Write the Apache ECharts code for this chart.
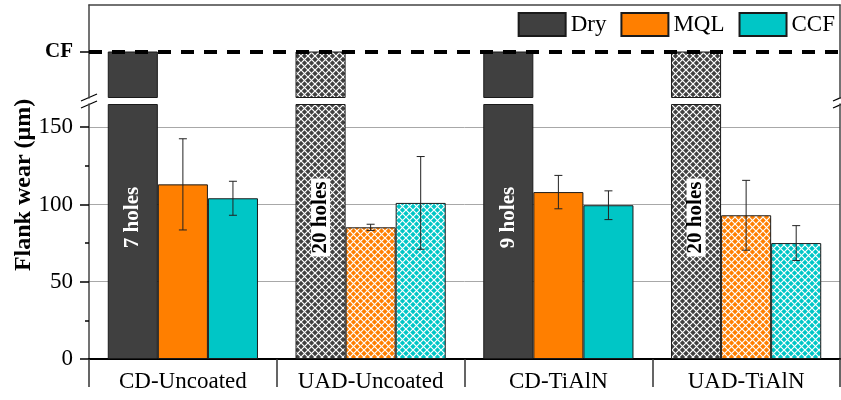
<!DOCTYPE html>
<html>
<head>
<meta charset="utf-8">
<title>Flank wear</title>
<script src="https://cdn.jsdelivr.net/npm/echarts@6/dist/echarts.min.js"></script>
<style>
  html, body { margin: 0; padding: 0; background: #fff; }
  #chart { width: 841px; height: 400px; }
</style>
</head>
<body>
<div id="chart"></div>
<script>
// values
const categories = ['CD-Uncoated', 'UAD-Uncoated', 'CD-TiAlN', 'UAD-TiAlN']
const dryResult = ['CF', 'CF', 'CF', 'CF'] // dry drilling hit catastrophic failure
const dryHoles = ['7 holes', '20 holes', '9 holes', '20 holes']
const mqlWear = [113, 85.2, 108, 93]
const mqlErr = [29.5, 2, 10.8, 22.6]
const ccfWear = [104, 101, 99.5, 75]
const ccfErr = [11, 30, 9.3, 11.3]
const yTicks = [0, 50, 100, 150]
const yMinorTicks = [25, 75, 125]

const CF_LEVEL = 1 // upper (broken) segment runs 0..2, CF sits in the middle
const LOWER_MAX = 165

const FONT = '"Liberation Serif", "Times New Roman", serif'
const DRY = '#404040'
const ORANGE = '#ff7f00'
const CYAN = '#00c6c6'
const EDGE = '#1a1a1a'
const FRAME = '#444'

// white crosshatch used for the UAD bars
function hatch(color) {
  const c = document.createElement('canvas')
  c.width = 7
  c.height = 7
  const ctx = c.getContext('2d')
  ctx.fillStyle = color
  ctx.fillRect(0, 0, 7, 7)
  ctx.strokeStyle = '#fff'
  ctx.lineWidth = 1.2
  ctx.beginPath()
  ctx.moveTo(-1, -1); ctx.lineTo(8, 8)
  ctx.moveTo(-1, 8); ctx.lineTo(8, -1)
  ctx.stroke()
  return { image: c, repeat: 'repeat' }
}

const isUAD = i => categories[i].indexOf('UAD') === 0
const fillFor = (color, i) => (isUAD(i) ? hatch(color) : color)

function barItems(values, color) {
  return values.map((v, i) => ({ value: v, itemStyle: { color: fillFor(color, i) } }))
}

function errorItems(values, errs, slot) {
  return values.map((v, i) => [i, v, errs[i], slot])
}

const chart = echarts.init(document.getElementById('chart'), null, { renderer: 'canvas' })

const edgeStyle = { borderColor: EDGE, borderWidth: 1 }

chart.setOption({
  animation: false,
  backgroundColor: '#fff',
  legend: {
    data: ['Dry', 'MQL', 'CCF'],
    top: 12,
    right: 6,
    padding: 0,
    itemWidth: 47,
    itemHeight: 23,
    itemGap: 14,
    icon: 'rect',
    selectedMode: false,
    textStyle: { fontFamily: FONT, fontSize: 23, color: '#000' }
  },
  grid: [
    { left: 89, right: 1, top: 5, height: 93, outerBoundsMode: 'none' },
    { left: 89, right: 1, top: 104, bottom: 41, outerBoundsMode: 'none' }
  ],
  xAxis: [
    {
      type: 'category', gridIndex: 0, data: categories, position: 'top',
      axisLine: { onZero: false, lineStyle: { color: FRAME, width: 1.5 } },
      axisTick: { show: false }, axisLabel: { show: false }
    },
    {
      type: 'category', gridIndex: 1, data: categories,
      axisLine: { onZero: false, lineStyle: { color: '#000', width: 2 } },
      axisTick: { show: true, length: 28, interval: 0, lineStyle: { color: '#333', width: 1.5 } },
      axisLabel: { fontFamily: FONT, fontSize: 23, color: '#000', margin: 11, interval: 0 }
    }
  ],
  yAxis: [
    {
      type: 'value', gridIndex: 0, position: 'left', min: 0, max: 2,
      axisLine: { show: true, lineStyle: { color: FRAME, width: 1.5 } },
      axisTick: { show: true, length: 9, customValues: [CF_LEVEL], lineStyle: { color: '#000', width: 1.5 } },
      axisLabel: {
        customValues: [CF_LEVEL], formatter: () => 'CF',
        fontFamily: FONT, fontSize: 21, fontWeight: 'bold', color: '#000', margin: 16
      },
      splitLine: { show: false }
    },
    {
      type: 'value', gridIndex: 1, position: 'left', min: 0, max: LOWER_MAX, interval: 50,
      axisLine: { show: true, lineStyle: { color: FRAME, width: 1.5 } },
      axisTick: { show: true, length: 9, customValues: yTicks, lineStyle: { color: '#000', width: 1.5 } },
      axisLabel: { customValues: yTicks, fontFamily: FONT, fontSize: 23, color: '#000', margin: 16 },
      splitLine: {
        show: true,
        lineStyle: { color: ['#a8a8a8', '#a8a8a8', '#a8a8a8', '#a8a8a8', 'rgba(0,0,0,0)'], width: 1 }
      }
    },
    {
      // right frame, upper segment
      type: 'value', gridIndex: 0, position: 'right', min: 0, max: 2,
      axisLine: { show: true, lineStyle: { color: FRAME, width: 1.5 } },
      axisTick: { show: false }, axisLabel: { show: false }, splitLine: { show: false }
    },
    {
      // minor ticks of the lower segment
      type: 'value', gridIndex: 1, position: 'left', min: 0, max: LOWER_MAX,
      axisLine: { show: false },
      axisTick: { show: true, length: 4, customValues: yMinorTicks, lineStyle: { color: '#000', width: 1.5 } },
      axisLabel: { show: false }, splitLine: { show: false }
    },
    {
      // right frame, lower segment
      type: 'value', gridIndex: 1, position: 'right', min: 0, max: LOWER_MAX,
      axisLine: { show: true, lineStyle: { color: FRAME, width: 1.5 } },
      axisTick: { show: false }, axisLabel: { show: false }, splitLine: { show: false }
    }
  ],
  series: [
    // upper segment: dry bars reach CF
    {
      name: 'Dry', type: 'bar', xAxisIndex: 0, yAxisIndex: 0,
      barGap: '0%', barCategoryGap: '20%',
      itemStyle: Object.assign({ color: DRY }, edgeStyle),
      data: barItems(dryResult.map(() => CF_LEVEL), DRY),
      markLine: {
        silent: true, symbol: 'none', z: 10,
        label: { show: false },
        lineStyle: { color: '#000', width: 4, type: [13, 10] },
        data: [{ yAxis: CF_LEVEL }]
      }
    },
    { name: 'MQL', type: 'bar', xAxisIndex: 0, yAxisIndex: 0, itemStyle: Object.assign({ color: ORANGE }, edgeStyle), data: [] },
    { name: 'CCF', type: 'bar', xAxisIndex: 0, yAxisIndex: 0, itemStyle: Object.assign({ color: CYAN }, edgeStyle), data: [] },
    // lower segment
    {
      name: 'Dry', type: 'bar', xAxisIndex: 1, yAxisIndex: 1,
      barGap: '0%', barCategoryGap: '20%',
      itemStyle: Object.assign({ color: DRY }, edgeStyle),
      data: dryResult.map((r, i) => ({
        value: LOWER_MAX,
        itemStyle: { color: fillFor(DRY, i) },
        label: isUAD(i)
          ? { color: '#000', backgroundColor: '#fff', padding: [1, 3] }
          : { color: '#fff' }
      })),
      label: {
        show: true, position: 'inside', rotate: 90, offset: [14, 0],
        formatter: p => dryHoles[p.dataIndex],
        fontFamily: FONT, fontSize: 21, fontWeight: 'bold', lineHeight: 17
      }
    },
    {
      name: 'MQL', type: 'bar', xAxisIndex: 1, yAxisIndex: 1,
      itemStyle: Object.assign({ color: ORANGE }, edgeStyle),
      data: barItems(mqlWear, ORANGE)
    },
    {
      name: 'CCF', type: 'bar', xAxisIndex: 1, yAxisIndex: 1,
      itemStyle: Object.assign({ color: CYAN }, edgeStyle),
      data: barItems(ccfWear, CYAN)
    },
    {
      name: 'error', type: 'custom', xAxisIndex: 1, yAxisIndex: 1, z: 10, silent: true,
      data: errorItems(mqlWear, mqlErr, 1).concat(errorItems(ccfWear, ccfErr, 2)),
      renderItem(params, api) {
        const cat = api.value(0)
        const hi = api.coord([cat, api.value(1) + api.value(2)])
        const lo = api.coord([cat, api.value(1) - api.value(2)])
        const barW = api.size([1, 0])[0] * 0.8 / 3
        const x = hi[0] + (api.value(3) - 1) * barW
        const cap = 4
        const style = { stroke: '#222', lineWidth: 1 }
        return {
          type: 'group',
          children: [
            { type: 'line', shape: { x1: x, y1: hi[1], x2: x, y2: lo[1] }, style },
            { type: 'line', shape: { x1: x - cap, y1: hi[1], x2: x + cap, y2: hi[1] }, style },
            { type: 'line', shape: { x1: x - cap, y1: lo[1], x2: x + cap, y2: lo[1] }, style }
          ]
        }
      }
    }
  ],
  graphic: [
    {
      type: 'text', x: 24, y: 185, rotation: Math.PI / 2,
      style: {
        text: 'Flank wear (μm)', fill: '#000',
        font: 'bold 24px "Liberation Serif", "Times New Roman", serif',
        align: 'center', verticalAlign: 'middle'
      }
    },
    // axis break marks
    { type: 'line', shape: { x1: 81, y1: 101, x2: 97, y2: 94 }, style: { stroke: '#000', lineWidth: 1.2 } },
    { type: 'line', shape: { x1: 81, y1: 108, x2: 97, y2: 101 }, style: { stroke: '#000', lineWidth: 1.2 } },
    { type: 'line', shape: { x1: 833, y1: 101, x2: 849, y2: 94 }, style: { stroke: '#000', lineWidth: 1.2 } },
    { type: 'line', shape: { x1: 833, y1: 108, x2: 849, y2: 101 }, style: { stroke: '#000', lineWidth: 1.2 } }
  ]
})
</script>
</body>
</html>
